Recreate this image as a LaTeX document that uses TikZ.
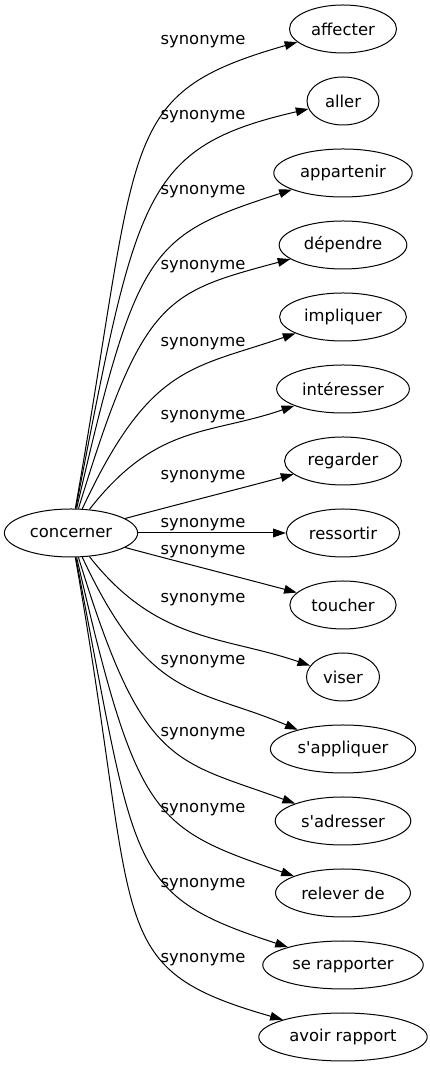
\documentclass[tikz,border=0pt]{standalone}
\usepackage{fontspec}
\setmainfont{DejaVu Sans}
\usetikzlibrary{arrows.meta,shapes.geometric}

\begin{document}
\begin{tikzpicture}[x=0.75pt, y=0.75pt,
		word/.style={draw, ellipse, line width=0.75pt, inner xsep=4.5pt, inner ysep=0pt, minimum height=36pt, minimum width=54pt, font=\fontsize{12.3}{14}\selectfont},
		rel/.style={anchor=base, inner sep=0pt, font=\fontsize{12.3}{14}\selectfont},
		syn/.style={-{Triangle[length=9.5pt,width=6.5pt]}, line width=0.75pt}]
		\useasboundingbox (0,0) rectangle (429,1067);

		\node[word] (concerner) at (71,534) {concerner};

		\node[word] (affecter) at (343,1038) {affecter};
		\node[word] (aller) at (343,966) {aller};
		\node[word] (appartenir) at (343,894) {appartenir};
		\node[word] (dependre) at (343,822) {dépendre};
		\node[word] (impliquer) at (343,750) {impliquer};
		\node[word] (interesser) at (343,678) {intéresser};
		\node[word] (regarder) at (343,606) {regarder};
		\node[word] (ressortir) at (343,534) {ressortir};
		\node[word] (toucher) at (343,462) {toucher};
		\node[word] (viser) at (343,390) {viser};
		\node[word] (sappliquer) at (343,318) {s\textquotesingle appliquer};
		\node[word] (sadresser) at (343,246) {s\textquotesingle adresser};
		\node[word] (relever) at (343,174) {relever de};
		\node[word] (serapporter) at (343,102) {se rapporter};
		\node[word] (avoir) at (343,30) {avoir rapport};

		\node[rel] (l-affecter) at (203,1022) {synonyme};
		\node[rel] (l-aller) at (203,947) {synonyme};
		\node[rel] (l-appartenir) at (203,872) {synonyme};
		\node[rel] (l-dependre) at (203,797) {synonyme};
		\node[rel] (l-impliquer) at (203,720) {synonyme};
		\node[rel] (l-interesser) at (203,647) {synonyme};
		\node[rel] (l-regarder) at (203,587) {synonyme};
		\node[rel] (l-ressortir) at (203,539) {synonyme};
		\node[rel] (l-toucher) at (203,512) {synonyme};
		\node[rel] (l-viser) at (203,464) {synonyme};
		\node[rel] (l-sappliquer) at (203,402) {synonyme};
		\node[rel] (l-sadresser) at (203,330) {synonyme};
		\node[rel] (l-relever) at (203,254) {synonyme};
		\node[rel] (l-serapporter) at (203,179) {synonyme};
		\node[rel] (l-avoir) at (203,104) {synonyme};

		\draw[syn] (concerner) to[out=80, in=196, out distance=285pt, in distance=142pt] (affecter);
		\draw[syn] (concerner) to[out=79, in=193, out distance=240pt, in distance=128pt] (aller);
		\draw[syn] (concerner) to[out=77, in=198, out distance=202pt, in distance=112pt] (appartenir);
		\draw[syn] (concerner) to[out=73, in=195, out distance=165pt, in distance=98pt] (dependre);
		\draw[syn] (concerner) to[out=65, in=199, out distance=120pt, in distance=82pt] (impliquer);
		\draw[syn] (concerner) to[out=52, in=199, out distance=82pt, in distance=68pt] (interesser);
		\draw[syn] (concerner) to[out=15, in=195, out distance=45pt, in distance=45pt] (regarder);
		\draw[syn] (concerner) -- (ressortir);
		\draw[syn] (concerner) to[out=-15, in=165, out distance=45pt, in distance=45pt] (toucher);
		\draw[syn] (concerner) to[out=-52, in=161, out distance=82pt, in distance=68pt] (viser);
		\draw[syn] (concerner) to[out=-65, in=157, out distance=120pt, in distance=82pt] (sappliquer);
		\draw[syn] (concerner) to[out=-73, in=160, out distance=165pt, in distance=98pt] (sadresser);
		\draw[syn] (concerner) to[out=-77, in=161, out distance=202pt, in distance=112pt] (relever);
		\draw[syn] (concerner) to[out=-79, in=162, out distance=240pt, in distance=128pt] (serapporter);
		\draw[syn] (concerner) to[out=-80, in=164, out distance=285pt, in distance=142pt] (avoir);

	\end{tikzpicture}
\end{document}
